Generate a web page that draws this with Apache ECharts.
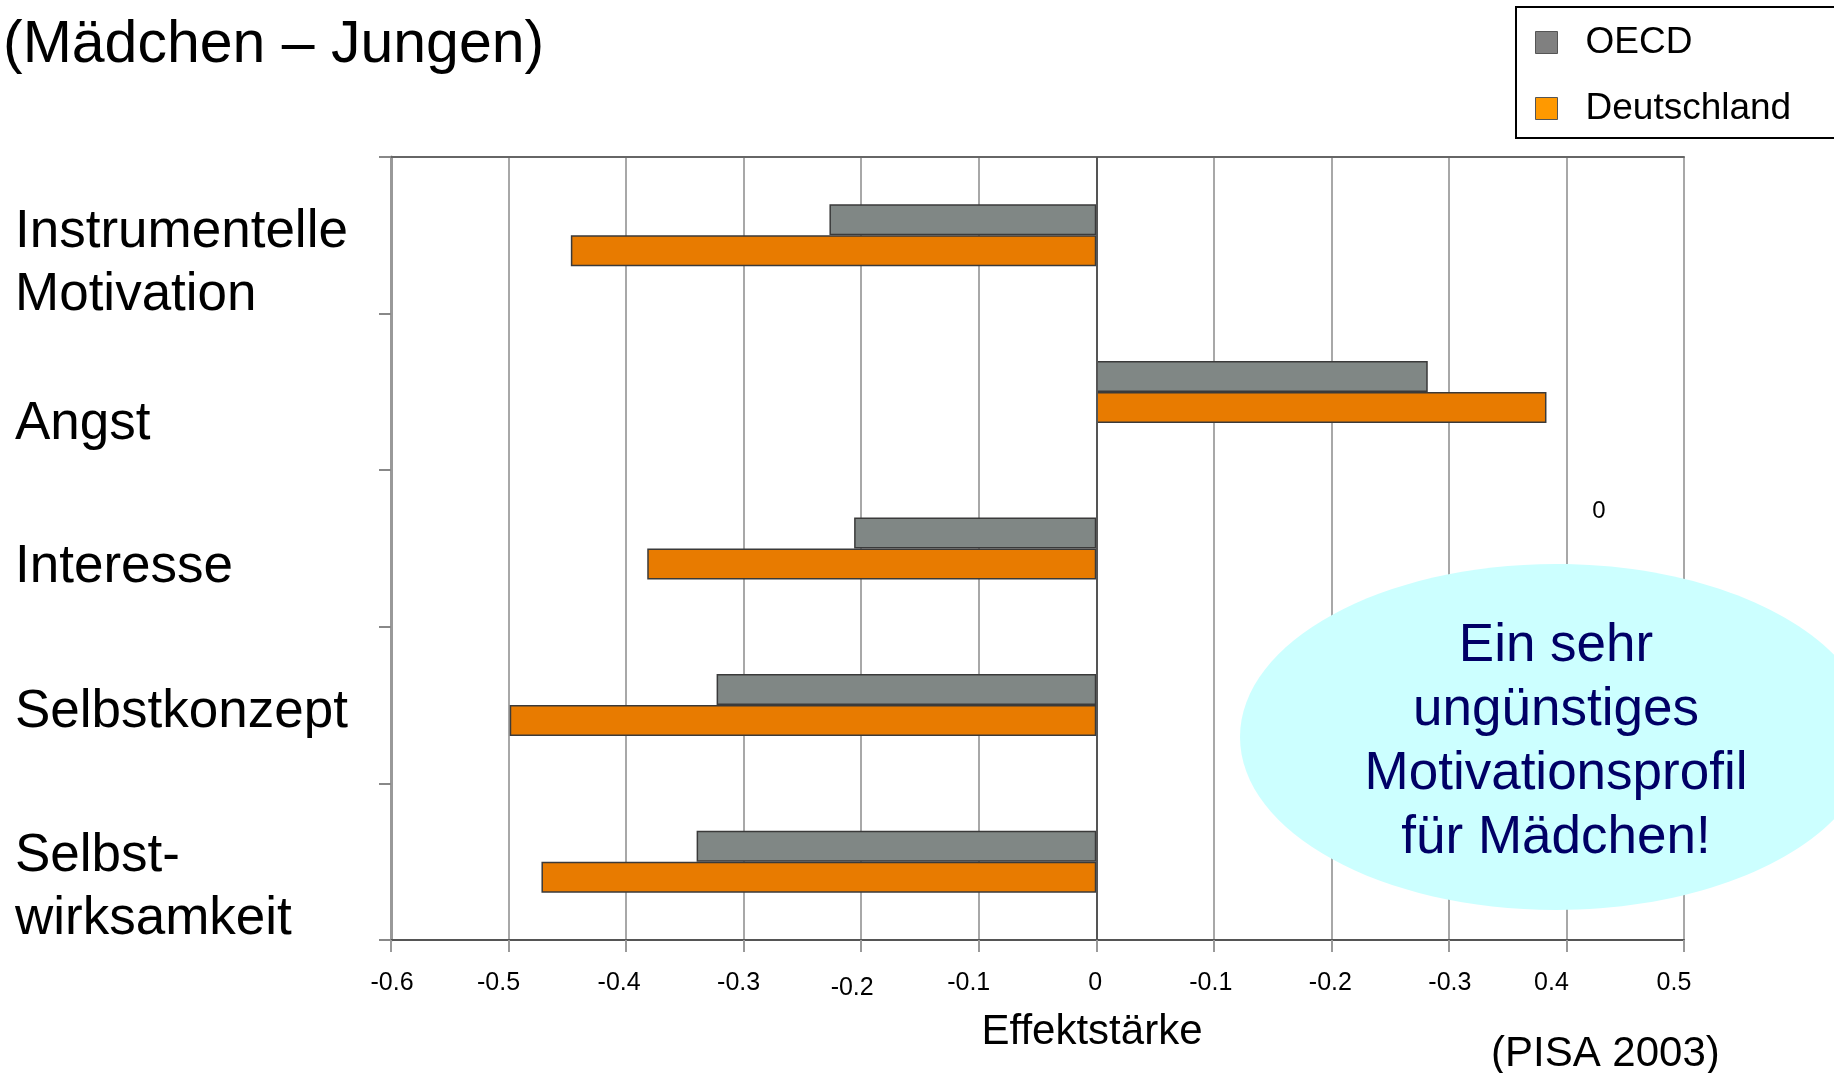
<!DOCTYPE html>
<html>
<head>
<meta charset="utf-8">
<script src="https://cdn.jsdelivr.net/npm/echarts@6/dist/echarts.min.js"></script>
<style>
html,body{margin:0;padding:0;background:#fff;}
#c{width:1834px;height:1073px;}
</style>
</head>
<body>
<div id="c"></div>
<script>
// ---- data ----
const categories = ['Instrumentelle\nMotivation', 'Angst', 'Interesse', 'Selbstkonzept', 'Selbst-\nwirksamkeit'];
const seriesNames = ['OECD', 'Deutschland'];
const oecd = [-0.227, 0.282, -0.206, -0.323, -0.340];
const deutschland = [-0.447, 0.383, -0.382, -0.499, -0.472];
const tickLabels = ['-0.6', '-0.5', '-0.4', '-0.3', '-0.2', '-0.1', '0', '-0.1', '-0.2', '-0.3', '0.4', '0.5'];
const titleText = '(Mädchen – Jungen)';
const axisName = 'Effektstärke';
const sourceText = '(PISA 2003)';
const calloutLines = ['Ein sehr', 'ungünstiges', 'Motivationsprofil', 'für Mädchen!'];
const strayLabel = '0';

// ---- styling (positions / offsets) ----
const FONT = "'Liberation Sans', Arial, Helvetica, sans-serif";
const xShift = [1, -10, -7, -5, -9, -10, -1, -3, -1, 1, -15, -10];
const xDrop = [0, 0, 0, 0, 5, 0, 0, 0, 0, 0, 0, 0];
const yDrop = [29, 32, 19, 7, 26];

const rich = {};
tickLabels.forEach((t, i) => {
  const s = xShift[i];
  rich['t' + i] = {
    fontSize: 25, fontFamily: FONT, color: '#000',
    padding: [xDrop[i], s < 0 ? -2 * s : 0, 0, s > 0 ? 2 * s : 0]
  };
});

const yRich = { l: { fontSize: 53, lineHeight: 63, fontFamily: FONT, color: '#000', align: 'left' } };
yDrop.forEach((d, i) => { yRich['sp' + i] = { fontSize: 2, lineHeight: 2 * d, align: 'left' }; });

const chart = echarts.init(document.getElementById('c'), null, { renderer: 'canvas' });
chart.setOption({
  backgroundColor: '#ffffff',
  animation: false,
  grid: { left: 391, right: 150, top: 157, bottom: 133, containLabel: false, outerBoundsMode: 'none' },
  legend: {
    orient: 'vertical',
    left: 1530, top: 19,
    itemWidth: 22, itemHeight: 22, itemGap: 29,
    icon: 'rect',
    textStyle: { fontSize: 37, fontFamily: FONT, color: '#000', padding: [0, 0, 0, 23], lineHeight: 37 },
    data: [
      { name: seriesNames[0], itemStyle: { color: '#808080', borderColor: '#555', borderWidth: 1 } },
      { name: seriesNames[1], itemStyle: { color: '#FF9900', borderColor: '#555', borderWidth: 1 } }
    ]
  },
  xAxis: [{
    type: 'value', min: -0.6, max: 0.5, interval: 0.1,
    axisLine: { show: true, onZero: false, lineStyle: { color: '#555', width: 2 } },
    axisTick: { show: true, length: 12, lineStyle: { color: '#9a9a9a', width: 2 } },
    splitLine: { show: true, lineStyle: { color: '#a8a8a8', width: 2 } },
    axisLabel: {
      margin: 31,
      rich: rich,
      formatter: function (v) {
        const i = Math.round((v + 0.6) * 10);
        return '{t' + i + '|' + tickLabels[i] + '}';
      }
    }
  }, {
    type: 'value', min: -0.6, max: 0.5, interval: 0.1, position: 'top',
    axisLine: { show: true, onZero: false, lineStyle: { color: '#666', width: 2 } },
    axisTick: { show: false }, axisLabel: { show: false }, splitLine: { show: false }
  }],
  yAxis: {
    type: 'category', inverse: true, data: categories,
    axisLine: { show: true, onZero: false, lineStyle: { color: '#999', width: 3 } },
    axisTick: { show: true, length: 12, lineStyle: { color: '#888', width: 2 } },
    axisLabel: {
      align: 'left', margin: 376, fontSize: 53, lineHeight: 63,
      fontFamily: FONT, color: '#000',
      rich: yRich,
      formatter: function (v) {
        const i = categories.indexOf(v);
        return '{sp' + i + '| }\n' + v.split('\n').map(s => '{l|' + s + '}').join('\n');
      }
    }
  },
  series: [{
    name: seriesNames[0], type: 'bar', data: oecd,
    barWidth: 31, barGap: '0%',
    itemStyle: { color: '#808785', borderColor: '#3a3a3a', borderWidth: 1.5 },
    markLine: {
      silent: true, symbol: 'none', label: { show: false },
      lineStyle: { color: '#555', type: 'solid', width: 2 },
      data: [{ xAxis: 0 }]
    }
  }, {
    name: seriesNames[1], type: 'bar', data: deutschland,
    barWidth: 31, barGap: '0%',
    itemStyle: { color: '#E87B00', borderColor: '#3a3a3a', borderWidth: 1.5 }
  }],
  graphic: [
    { type: 'rect', z: 50, shape: { x: 1516, y: 7, width: 340, height: 131 },
      style: { fill: 'none', stroke: '#000', lineWidth: 2 } },
    { type: 'text', z: 50, x: 3, y: 46,
      style: { text: titleText, fontSize: 59, fontFamily: FONT, fill: '#000',
        align: 'left', verticalAlign: 'middle', textAlign: 'left', textVerticalAlign: 'middle' } },
    { type: 'text', z: 50, x: 1092, y: 1032,
      style: { text: axisName, fontSize: 42, fontFamily: FONT, fill: '#000',
        align: 'center', verticalAlign: 'middle', textAlign: 'center', textVerticalAlign: 'middle' } },
    { type: 'text', z: 50, x: 1491, y: 1054,
      style: { text: sourceText, fontSize: 42, fontFamily: FONT, fill: '#000',
        align: 'left', verticalAlign: 'middle', textAlign: 'left', textVerticalAlign: 'middle' } },
    { type: 'text', z: 50, x: 1599, y: 511,
      style: { text: strayLabel, fontSize: 24, fontFamily: FONT, fill: '#000',
        align: 'center', verticalAlign: 'middle', textAlign: 'center', textVerticalAlign: 'middle' } },
    { type: 'ellipse', z: 60, shape: { cx: 1556, cy: 737, rx: 316, ry: 173 },
      style: { fill: '#CCFFFF', stroke: 'none' } },
    { type: 'text', z: 61, x: 1556, y: 742,
      style: { text: calloutLines.join('\n'), fontSize: 53, lineHeight: 64, fontFamily: FONT, fill: '#000066',
        align: 'center', verticalAlign: 'middle', textAlign: 'center', textVerticalAlign: 'middle' } }
  ]
});
</script>
</body>
</html>
